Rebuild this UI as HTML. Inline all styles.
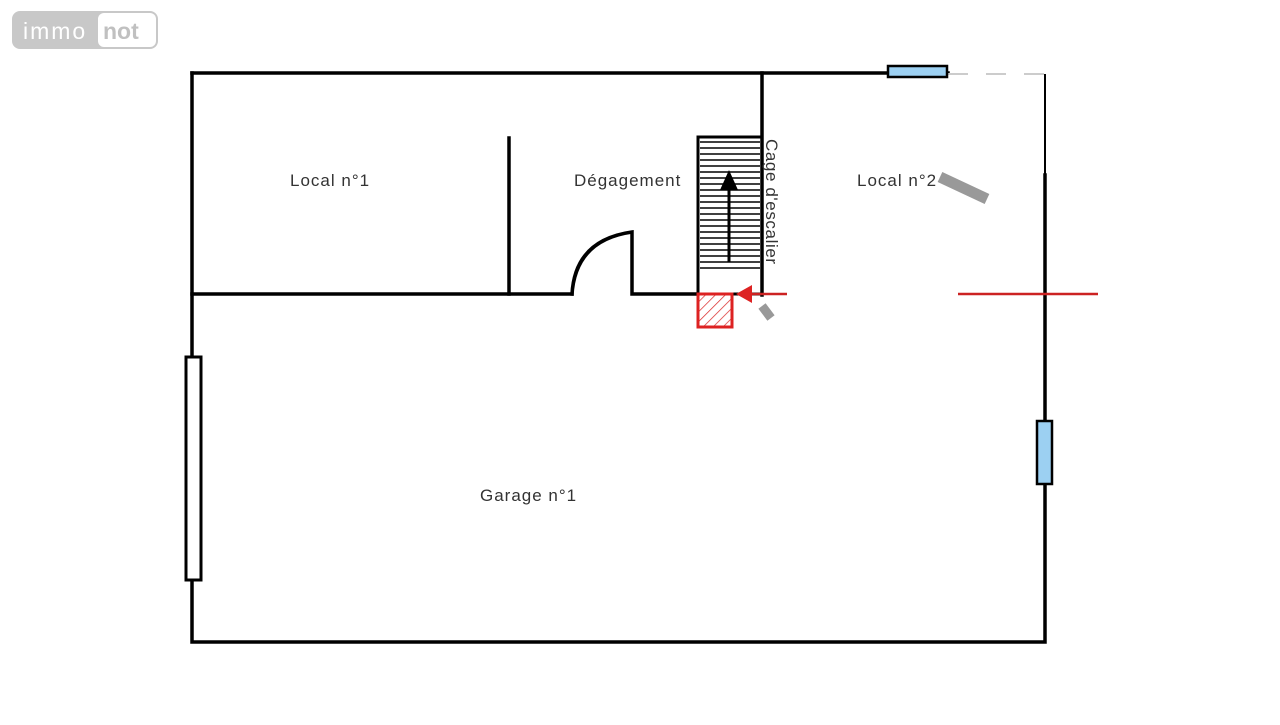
<!DOCTYPE html>
<html><head><style>
body{margin:0;background:#fff;width:1280px;height:720px;overflow:hidden;font-family:"Liberation Sans",sans-serif}
</style></head><body>
<svg width="1280" height="720" viewBox="0 0 1280 720" xmlns="http://www.w3.org/2000/svg">
<defs>
<pattern id="h" width="7" height="7" patternUnits="userSpaceOnUse" patternTransform="rotate(45)">
<line x1="0" y1="0" x2="0" y2="7" stroke="#d33" stroke-width="1.5"/></pattern>
</defs>
<rect x="12" y="11" width="146" height="38" rx="8" fill="#c8c8c8"/>
<rect x="98" y="13" width="58" height="34" rx="6" fill="#fff"/>
<text x="23" y="39" font-size="23" fill="#fff" letter-spacing="2">immo</text>
<text x="103" y="39" font-size="23" font-weight="bold" fill="#c0c0c0">not</text>
<g stroke="#000" stroke-width="3.5" fill="none" stroke-linecap="square">
<path d="M192 73 H948"/>
<path d="M192 73 V642 H1045 V175"/>
<path d="M1045 75 V175" stroke-width="2"/>
<path d="M762 73 V295"/>
<path d="M509 138 V294"/>
<path d="M192 294 H572"/>
<path d="M572 294 Q575 240 632 232 V294 H697"/>
<rect x="698" y="137" width="64" height="157" stroke-width="3"/>
</g>
<path d="M948 74 H1045" stroke="#ccc" stroke-width="2" stroke-dasharray="20 18"/>
<g stroke="#000" stroke-width="1.5">
<path d="M700 142H760M700 148H760M700 154H760M700 160H760M700 166H760M700 172H760M700 178H760M700 184H760M700 190H760M700 196H760M700 202H760M700 208H760M700 214H760M700 220H760M700 226H760M700 232H760M700 238H760M700 244H760M700 250H760M700 256H760M700 262H760M700 268H760"/>
</g>
<path d="M729 262 V185" stroke="#000" stroke-width="3"/>
<polygon points="729,170 720,190 738,190" fill="#000"/>
<rect x="186" y="357" width="15" height="223" fill="#fff" stroke="#000" stroke-width="3"/>
<rect x="888" y="66" width="59" height="11" fill="#9cd0f2" stroke="#000" stroke-width="2.5"/>
<rect x="1037" y="421" width="15" height="63" fill="#9cd0f2" stroke="#000" stroke-width="2.5"/>
<rect x="698" y="294" width="34" height="33" fill="url(#h)" stroke="#d22" stroke-width="3"/>
<path d="M748 294 H787 M958 294 H1098" stroke="#c22" stroke-width="2.5"/>
<polygon points="736,294 752,285 752,303" fill="#d22"/>
<path d="M940 177 L987 199" stroke="#999" stroke-width="11"/>
<path d="M762 306 L771 318" stroke="#999" stroke-width="9"/>
<g font-size="17" fill="#333" letter-spacing="1">
<text x="290" y="186">Local n°1</text>
<text x="574" y="186">Dégagement</text>
<text x="857" y="186">Local n°2</text>
<text x="480" y="501">Garage n°1</text>
<text transform="translate(766,139) rotate(90)" letter-spacing="0.6">Cage d'escalier</text>
</g>
</svg>
</body></html>
